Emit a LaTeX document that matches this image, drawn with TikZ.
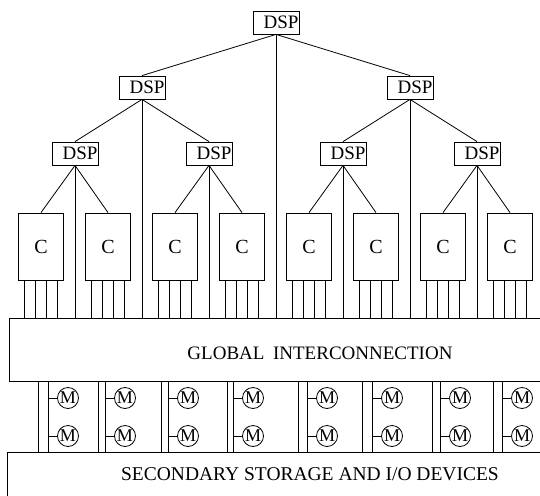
\documentclass[tikz,border=0pt]{standalone}
\usepackage{fontspec}
\setmainfont{Liberation Serif}
\begin{document}
\begin{tikzpicture}[x=1pt,y=-1pt,line width=0.8pt,
  dspbox/.style={draw, minimum width=46pt, minimum height=23pt, inner sep=0pt,
    text width=45pt, align=right, font=\fontsize{19}{19}\selectfont},
  cbox/.style={draw, minimum width=45pt, minimum height=67pt, inner sep=0pt,
    font=\fontsize{20}{20}\selectfont},
  mcirc/.style={draw, circle, minimum size=21pt, inner sep=0pt,
    font=\fontsize{18}{18}\selectfont},
  bigtext/.style={font=\fontsize{19}{19}\selectfont, inner sep=0pt}]
\useasboundingbox (0,0) rectangle (540,495);

% reference levels
\coordinate (gitop) at (0,318);
\coordinate (gibot) at (0,381);
\coordinate (sttop) at (0,452);

% DSP tree
\node[dspbox] (t) at (276,22.5) {DSP};
\node[dspbox] (l) at (142,87.5) {DSP};
\node[dspbox] (r) at (410,87.5) {DSP};
\node[dspbox] (la) at (75,153.5) {DSP};
\node[dspbox] (lb) at (209,153.5) {DSP};
\node[dspbox] (ra) at (343,153.5) {DSP};
\node[dspbox] (rb) at (477,153.5) {DSP};

% C boxes
\foreach \i/\x in {1/41,2/108,3/175,4/242,5/309,6/376,7/443,8/510}{
  \node[cbox] (c\i) at (\x,246.5) {C};
  \foreach \o in {-16.5,-5.5,5.5,16.5}{
    \draw ([xshift=\o pt]c\i.south) -- ([xshift=\o pt]c\i.south |- gitop);
  }
}

% tree connectors
\draw (t.south) -- (l.north);
\draw (t.south) -- (r.north);
\draw (t.south) -- (t.south |- gitop);
\foreach \p/\a/\b in {l/la/lb, r/ra/rb}{
  \draw (\p.south) -- (\a.north);
  \draw (\p.south) -- (\b.north);
  \draw (\p.south) -- (\p.south |- gitop);
}
\foreach \d/\a/\b in {la/c1/c2, lb/c3/c4, ra/c5/c6, rb/c7/c8}{
  \draw (\d.south) -- (\a.north);
  \draw (\d.south) -- (\b.north);
  \draw (\d.south) -- (\d.south |- gitop);
}

% global interconnection
\draw (541,318) -- (9,318) -- (9,381) -- (541,381);
\node[bigtext] (gi) at (320,353) {GLOBAL\hspace{0.45em}INTERCONNECTION};

% memory modules
\foreach \k/\a/\b in {1/38/48,2/98/105,3/161/168,4/227/233,5/298/307,6/362/372,7/432/440,8/493/502}{
  \coordinate (pa\k) at (\a,381);
  \coordinate (pb\k) at (\b,381);
  \draw (pa\k) -- (pa\k |- sttop);
  \draw (pb\k) -- (pb\k |- sttop);
  \node[mcirc] (mu\k) at (\b+20,398) {M};
  \node[mcirc] (md\k) at (\b+20,436) {M};
  \draw (mu\k.west) -- (mu\k.west -| pb\k);
  \draw (md\k.west) -- (md\k.west -| pb\k);
}

% secondary storage
\draw (541,452) -- (7,452) -- (7,496);
\node[bigtext, font=\fontsize{19.5}{19.5}\selectfont] (ss) at (310,474) {SECONDARY STORAGE AND I/O DEVICES};
\end{tikzpicture}
\end{document}
